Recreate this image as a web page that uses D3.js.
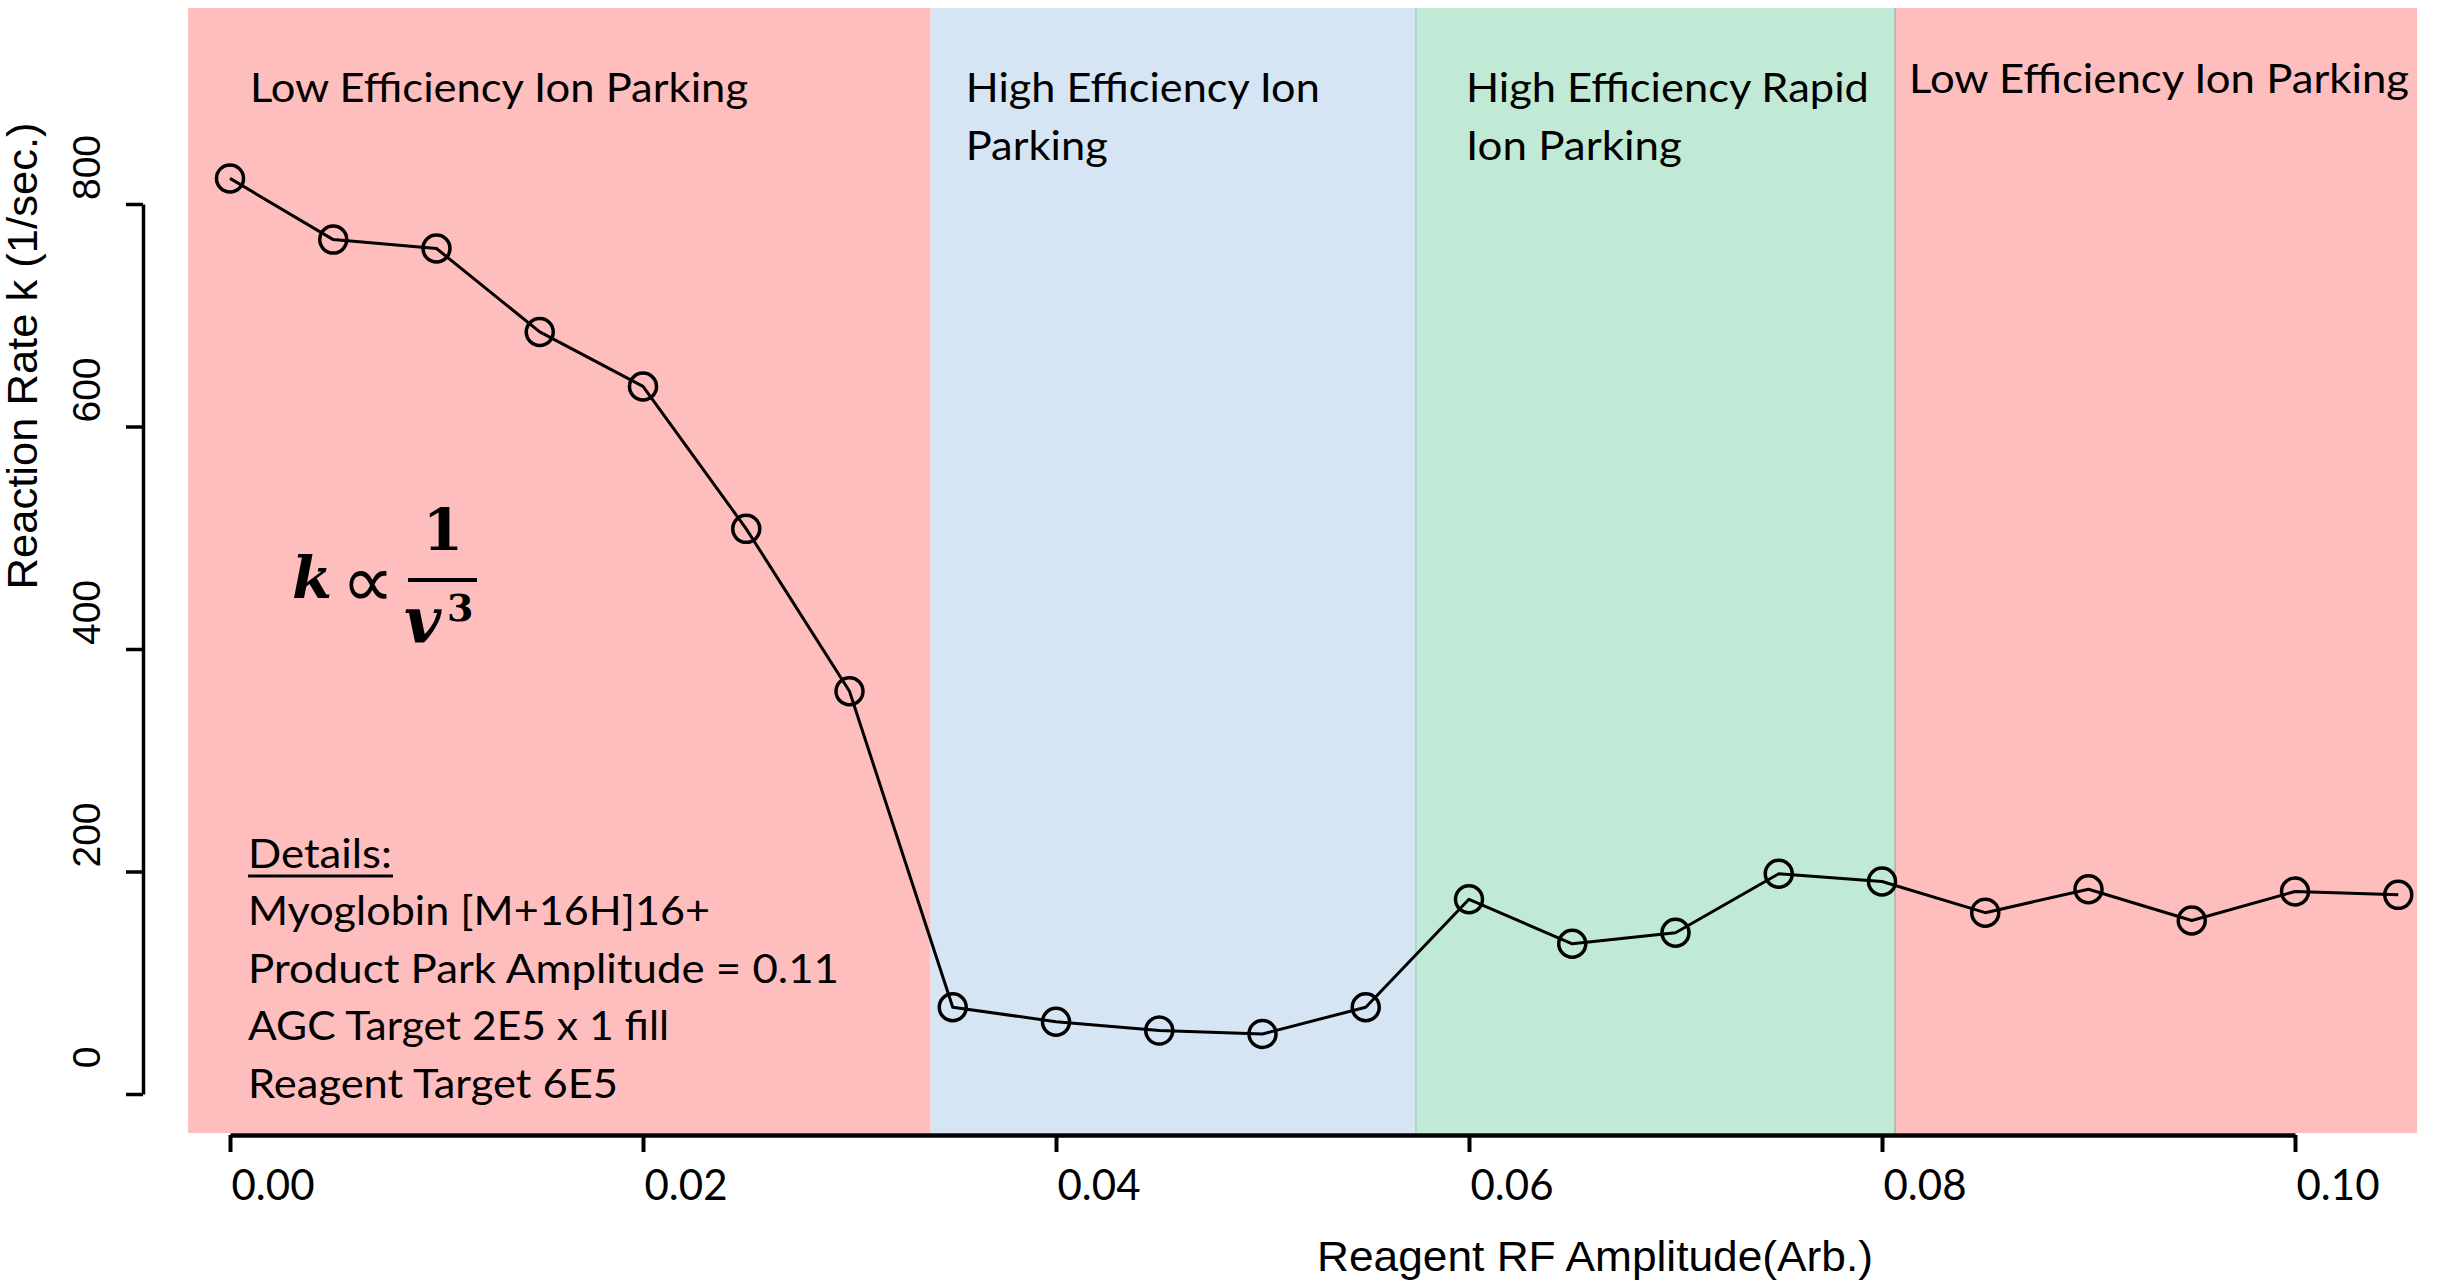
<!DOCTYPE html>
<html>
<head>
<meta charset="utf-8">
<script src="https://cdn.jsdelivr.net/npm/d3@7"></script>
<style>
  html, body { margin: 0; padding: 0; background: #ffffff; }
  svg { display: block; }
</style>
</head>
<body>
<svg id="chart" width="2440" height="1281"></svg>
<script>
// Reagent RF amplitude (arb.) at which each reaction rate was measured
const amplitude = [0.000, 0.005, 0.010, 0.015, 0.020, 0.025, 0.030, 0.035, 0.040, 0.045, 0.050,
                   0.055, 0.060, 0.065, 0.070, 0.075, 0.080, 0.085, 0.090, 0.095, 0.100, 0.105];
// Reaction rate k (1/sec.)
const rate = [823, 768, 760, 685, 636, 508, 362, 78, 65, 57, 54,
              78, 175, 135, 145, 198, 191, 163, 184, 156, 182, 179];

// Parking regimes along the amplitude axis
const regionStart = [-0.00203, 0.03393, 0.05743, 0.08063];
const regionEnd   = [0.03393, 0.05743, 0.08063, 0.10591];
const regionKind  = ["low", "high", "rapid", "low"];
const regionText  = [
  ["Low Efficiency Ion Parking"],
  ["High Efficiency Ion", "Parking"],
  ["High Efficiency Rapid", "Ion Parking"],
  ["Low Efficiency Ion Parking"]
];

// Axis ticks
const xTicks = [0.00, 0.02, 0.04, 0.06, 0.08, 0.10];
const yTicks = [0, 200, 400, 600, 800];

// Experimental details
const detailsTitle = "Details:";
const detailsLines = [
  "Myoglobin [M+16H]16+",
  "Product Park Amplitude = 0.11",
  "AGC Target 2E5 x 1 fill",
  "Reagent Target 6E5"
];

const xTitle = "Reagent RF Amplitude(Arb.)";
const yTitle = "Reaction Rate k (1/sec.)";

// ---- styling and layout ----
const fill = { low: "#FFBEBE", high: "#D5E5F4", rapid: "#C0EAD5" };
const labelFont = "Lato, 'Open Sans', sans-serif";
const axisFont = "'Liberation Sans', Arial, sans-serif";
const mathFont = "'DejaVu Serif', 'Liberation Serif', serif";

const svg = d3.select("#chart");

const x = d3.scaleLinear().domain([0, 0.1]).range([230, 2295]);
const y = d3.scaleLinear().domain([0, 800]).range([1094, 204]);

const bandTop = 8, bandBottom = 1133;

// background bands
svg.append("g").selectAll("rect")
  .data(regionStart.map((s, i) => ({ s, e: regionEnd[i], kind: regionKind[i] })))
  .join("rect")
  .attr("x", d => x(d.s))
  .attr("y", bandTop)
  .attr("width", d => x(d.e) - x(d.s))
  .attr("height", bandBottom - bandTop)
  .attr("fill", d => fill[d.kind]);

// faint separators where the band colours meet
svg.append("g").selectAll("line")
  .data([regionStart[2], regionStart[3]])
  .join("line")
  .attr("x1", d => x(d)).attr("x2", d => x(d))
  .attr("y1", bandTop).attr("y2", bandBottom)
  .attr("stroke", (d, i) => i === 0 ? "#a9d3c4" : "#a9b3ad")
  .attr("stroke-width", 1.5);

// band titles
const titleAnchor = [0.00097, 0.03563, 0.05985, 0.08131];
const titleBaseline = [[102], [102, 160], [102, 160], [93]];
const titleWidth = [[498], [354, 142], [403, 216], [500]];
regionText.forEach((lines, i) => {
  lines.forEach((t, j) => {
    svg.append("text")
      .attr("x", x(titleAnchor[i]))
      .attr("y", titleBaseline[i][j])
      .attr("font-family", labelFont)
      .attr("font-size", 41)
      .attr("fill", "#000")
      .attr("textLength", titleWidth[i][j])
      .attr("lengthAdjust", "spacingAndGlyphs")
      .text(t);
  });
});

// details block
const detailsX = 248;
svg.append("text")
  .attr("x", detailsX).attr("y", 868)
  .attr("font-family", labelFont).attr("font-size", 41)
  .attr("textLength", 144).attr("lengthAdjust", "spacingAndGlyphs")
  .text(detailsTitle);
svg.append("line")
  .attr("x1", detailsX).attr("x2", detailsX + 145)
  .attr("y1", 876).attr("y2", 876)
  .attr("stroke", "#000").attr("stroke-width", 3);
const detailWidths = [462, 591, 421, 370];
detailsLines.forEach((t, i) => {
  svg.append("text")
    .attr("x", detailsX).attr("y", 925 + i * 57.5)
    .attr("font-family", labelFont).attr("font-size", 41)
    .attr("textLength", detailWidths[i]).attr("lengthAdjust", "spacingAndGlyphs")
    .text(t);
});

// k ∝ 1 / v^3
const eq = svg.append("g");
eq.append("text")
  .attr("x", 292).attr("y", 598)
  .attr("font-family", mathFont).attr("font-size", 58)
  .attr("font-weight", "bold").attr("font-style", "italic")
  .text("k");
eq.append("text")
  .attr("x", 368).attr("y", 607).attr("text-anchor", "middle")
  .attr("font-family", "'DejaVu Sans', sans-serif").attr("font-size", 74)
  .text("\u221D");
eq.append("text")
  .attr("x", 443).attr("y", 550).attr("text-anchor", "middle")
  .attr("font-family", mathFont).attr("font-size", 58)
  .attr("font-weight", "bold")
  .text("1");
eq.append("line")
  .attr("x1", 408).attr("x2", 477).attr("y1", 580).attr("y2", 580)
  .attr("stroke", "#000").attr("stroke-width", 4);
eq.append("text")
  .attr("x", 404).attr("y", 642)
  .attr("font-family", mathFont).attr("font-size", 64)
  .attr("font-weight", "bold").attr("font-style", "italic")
  .text("v");
eq.append("text")
  .attr("x", 447).attr("y", 621)
  .attr("font-family", mathFont).attr("font-size", 38)
  .attr("font-weight", "bold")
  .text("3");

// y axis
const yAxis = svg.append("g")
  .attr("transform", "translate(143,0)")
  .call(d3.axisLeft(y).tickValues(yTicks).tickSize(17).tickSizeOuter(0).tickFormat(d3.format("d")));
yAxis.select(".domain").attr("stroke", "#000").attr("stroke-width", 3.5);
yAxis.selectAll(".tick line").attr("stroke", "#000").attr("stroke-width", 3.5);
yAxis.selectAll(".tick text")
  .attr("x", null).attr("dy", null)
  .attr("transform", "translate(-43,-37) rotate(-90)")
  .attr("text-anchor", "middle")
  .attr("font-family", axisFont).attr("font-size", 39)
  .attr("fill", "#000");

// x axis
const xAxis = svg.append("g")
  .attr("transform", "translate(0,1135)")
  .call(d3.axisBottom(x).tickValues(xTicks).tickSize(17).tickSizeOuter(0).tickFormat(d3.format(".2f")));
xAxis.select(".domain").attr("stroke", "#000").attr("stroke-width", 4.5);
xAxis.selectAll(".tick line").attr("stroke", "#000").attr("stroke-width", 4);
xAxis.selectAll(".tick text")
  .attr("x", 1).attr("y", 65).attr("dy", null)
  .attr("text-anchor", "start")
  .attr("font-family", labelFont).attr("font-size", 43)
  .attr("textLength", 83).attr("lengthAdjust", "spacingAndGlyphs")
  .attr("fill", "#000");

// axis titles
svg.append("text")
  .attr("x", 1317).attr("y", 1271)
  .attr("font-family", axisFont).attr("font-size", 43)
  .attr("textLength", 556).attr("lengthAdjust", "spacingAndGlyphs")
  .text(xTitle);
svg.append("text")
  .attr("transform", "translate(37,356) rotate(-90)")
  .attr("text-anchor", "middle")
  .attr("font-family", axisFont).attr("font-size", 42)
  .attr("textLength", 467).attr("lengthAdjust", "spacingAndGlyphs")
  .text(yTitle);

// rate curve with open-circle markers
const pts = amplitude.map((a, i) => ({ a, k: rate[i] }));
svg.append("path")
  .datum(pts)
  .attr("fill", "none")
  .attr("stroke", "#000")
  .attr("stroke-width", 3)
  .attr("stroke-linejoin", "round")
  .attr("d", d3.line().x(d => x(d.a)).y(d => y(d.k)));
svg.append("g").selectAll("circle")
  .data(pts)
  .join("circle")
  .attr("cx", d => x(d.a))
  .attr("cy", d => y(d.k))
  .attr("r", 13.5)
  .attr("fill", "none")
  .attr("stroke", "#000")
  .attr("stroke-width", 3.5);
</script>
</body>
</html>
